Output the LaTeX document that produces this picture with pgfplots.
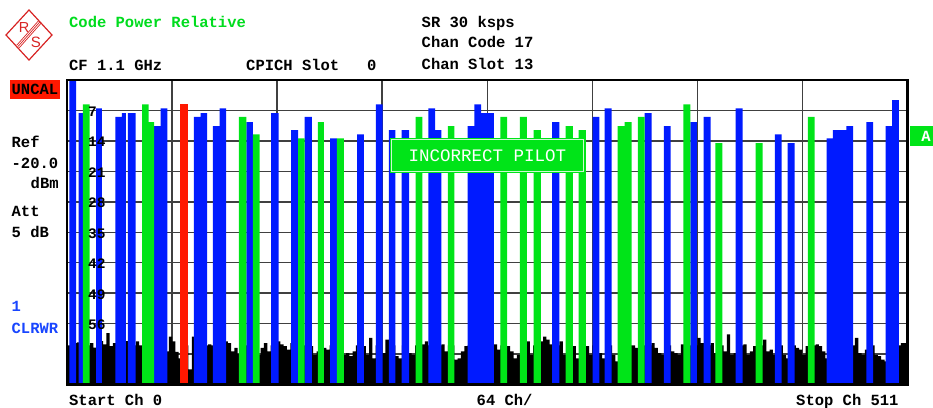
\documentclass[border=0pt]{standalone}
\usepackage{pgfplots}
\usepackage{pgfplotstable}
\pgfplotsset{compat=1.18}
\usepackage{fontspec}
\setmainfont{Liberation Mono}
\setsansfont{Liberation Sans}

\definecolor{rsblue}{RGB}{0,26,255}
\definecolor{rsgreen}{RGB}{0,228,24}
\definecolor{rsred}{RGB}{255,24,0}
\definecolor{hdrgreen}{RGB}{0,220,30}
\definecolor{txtblue}{RGB}{25,70,255}
\definecolor{logored}{RGB}{215,35,35}

\newcommand\rsfont{\fontsize{15.5bp}{18bp}\selectfont\bfseries}

% grid under the bars, frame over them
\pgfplotsset{
  layers/barsfirst/.define layer set={
    axis background,axis grid,axis ticks,pre main,main,axis lines,axis tick labels,axis descriptions,axis foreground
  }{
    grid style={/pgfplots/on layer=axis grid},
    tick style={/pgfplots/on layer=axis ticks},
    axis line style={/pgfplots/on layer=axis lines},
    label style={/pgfplots/on layer=axis descriptions},
    ticklabel style={/pgfplots/on layer=axis tick labels},
  },
}

% code power in dB below reference, per channel (bar start, level)
\pgfplotstableread{
x db
1.4 0
5.5 70
7.1 7.6
9.7 70
17.7 6.5
21.3 70
29.4 8.5
33.5 7.6
35.9 70
37.1 7.6
41.8 70
53.0 10.6
57.0 6.5
61.1 70
77.3 8.5
81.4 7.6
85.4 70
88.9 10.6
93.0 6.5
97.0 70
109.2 9.7
113.2 70
124.4 7.6
128.9 70
136.6 11.5
140.8 70
144.7 8.5
149.2 70
160.3 13.4
164.4 70
176.7 12.5
180.8 70
188.1 5.6
192.2 70
196.0 11.5
200.1 70
203.9 11.5
208.4 70
220.2 6.5
224.2 11.5
228.1 70
244.1 10.6
248.2 5.6
252.2 7.6
260.0 70
295.5 9.7
300.0 70
320.2 8.5
324.3 70
327.5 6.5
331.8 70
351.9 7.6
356.1 70
363.6 10.6
367.7 70
379.7 9.7
383.7 70
387.8 8.5
392.1 70
407.3 6.5
411.5 70
431.2 12.5
435.3 70
438.9 14.5
443.2 70
462.7 13.4
466.5 11.5
474.8 10.6
478.9 70
486.9 9.7
491.1 70
498.6 10.6
502.7 4.6
506.7 70
}\bluebars

\pgfplotstableread{
x db
9.7 5.6
13.8 70
45.7 5.6
49.7 9.7
53.0 70
104.7 8.5
109.2 70
113.2 12.5
117.3 70
140.8 13.4
144.7 70
152.8 9.7
156.5 70
164.4 13.4
168.6 70
212.3 8.5
216.5 70
232.0 10.6
236.0 70
264.0 8.5
268.1 70
275.8 8.5
280.2 70
284.3 11.5
288.6 70
303.8 10.6
308.1 70
311.7 11.5
316.1 70
335.4 10.6
339.7 9.7
344.0 70
347.8 8.5
351.9 70
375.4 5.6
379.7 70
394.9 14.5
399.2 70
419.5 14.5
423.7 70
451.3 8.5
455.4 70
}\greenbars

\pgfplotstableread{
x db
69.0 5.6
73.5 70
}\redbars

\pgfplotstableread{
c db
0 61
2 61
4 60.5
6 60.3
8 62
10 61
12 61
14 60.5
16 61.5
18 62
20 60
22 60.8
24 58.2
26 61.2
28 60.5
30 61
32 61
34 61
36 60
38 61
40 61
42 60.1
44 61
46 61
48 61
50 61
52 61
54 61
56 61
58 61
60 62.4
62 59
64 60.1
66 62.5
68 64
70 61
72 61
74 66.5
76 59
78 61
80 61
82 61
84 61
86 60.8
88 61
90 61
92 61
94 61
96 60.1
98 60.5
100 62.4
102 61.6
104 63
106 61
108 61
110 61
112 61
114 61
116 63.2
118 61.6
120 60.5
122 62.4
124 61
126 61
128 60.1
130 60.8
132 61.2
134 62
136 60.5
138 61
140 61
142 61
144 61
146 61
148 61.2
150 63.2
152 62.4
154 61
156 61.6
158 62
160 61
162 61
164 61
166 61
168 63.2
170 62.8
172 63.5
174 62.4
176 61
178 61
180 61.2
182 63.2
184 59.3
186 64
188 61
190 61
192 62.8
194 59.7
196 61
198 61
200 63.5
202 64
204 61
206 61
208 62.8
210 63.2
212 61
214 61
216 60.8
218 60.1
220 61
222 61
224 61
226 61
228 60.8
230 62.4
232 61
234 61
236 64.3
238 64
240 62.4
242 61.2
244 61
246 61
248 61
250 61
252 61
254 61
256 61
258 61
260 60.8
262 62
264 61
266 61
268 61.2
270 62.4
272 64
274 63.2
276 61
278 61
280 60.1
282 63.2
284 61
286 61
288 60.1
290 59
292 59.7
294 60.8
296 61
298 61
300 60.1
302 63.2
304 61
306 61
308 61.2
310 64
312 61
314 61
316 61.2
318 63.2
320 61
322 61
324 62.8
326 64
328 61
330 61
332 63.2
334 64.7
336 61
338 61
340 61
342 61
344 61
346 61.6
348 61
350 61
352 61
354 61
356 60.5
358 61.6
360 62.8
362 63.2
364 61
366 61
368 62.4
370 62.8
372 63.2
374 60.8
376 61
378 61
380 61
382 61
384 59.3
386 60.5
388 61
390 61
392 60.5
394 62.8
396 61
398 61
400 62.4
402 58.5
404 63.2
406 62.8
408 61
410 61
412 60.8
414 63.2
416 62.4
418 61.2
420 61
422 61
424 59.7
426 62.4
428 62
430 63.2
432 61
434 61
436 63.2
438 64
440 61
442 61
444 61.6
446 62
448 63.2
450 61.2
452 61
454 61
456 60.8
458 61.2
460 62.4
462 64
464 61
466 61
468 61
470 61
472 61
474 61
476 61
478 61
480 59.3
482 62.8
484 63.2
486 62
488 61
490 61
492 63.2
494 63.5
496 64.3
498 64.7
500 61
502 61
504 61
506 61
508 60.5
510 60.5
512 60.5
}\noisefloor

\begin{document}
\begin{tikzpicture}

\begin{axis}[
    at={(67bp,-384.5bp)}, anchor=south west,
    scale only axis,
    width=840.5bp, height=304.5bp,
    set layers=barsfirst,
    xmin=0, xmax=512,
    ymin=0, ymax=70,
    xtick={0,64,...,512}, xticklabels={},
    ytick={7,14,...,63}, yticklabels={},
    major tick length=0pt,
    grid=major,
    major grid style={line width=1.5bp, color=black!75},
    axis line style={line width=2.4bp, black},
]
\addplot[ybar interval, fill=black, draw=none] table[x=c, y expr=70-\thisrow{db}] {\noisefloor};
\addplot[ybar interval, fill=rsblue, draw=none] table[x=x, y expr=70-\thisrow{db}] {\bluebars};
\addplot[ybar interval, fill=rsgreen, draw=none] table[x=x, y expr=70-\thisrow{db}] {\greenbars};
\addplot[ybar interval, fill=rsred, draw=none] table[x=x, y expr=70-\thisrow{db}] {\redbars};
\end{axis}

% level labels inside the grid, on top of the bars
\foreach \lab/\yy in {7/111.7,14/142.2,21/172.6,28/203.1,35/233.5,42/264,49/294.4,56/324.9} {
  \node[anchor=west, inner sep=0pt, font=\fontsize{14.5bp}{15bp}\selectfont\bfseries] at (88bp,-\yy bp) {\lab};
}

% logo
\draw[logored, line width=1.2bp, line join=miter] (29bp,-10bp) -- (52bp,-35bp) -- (29bp,-60bp) -- (6bp,-35bp) -- cycle;
\foreach \o in {-1,0,1} {
  \draw[logored, line width=0.7bp] ([xshift=\o*1.3bp, yshift=-\o*1.2bp]39.8bp,-22bp) -- ([xshift=\o*1.3bp, yshift=-\o*1.2bp]18bp,-46.5bp);
}
\node[logored, font=\fontsize{14.5bp}{15bp}\selectfont\sffamily, inner sep=0pt] at (24.2bp,-28bp) {R};
\node[logored, font=\fontsize{15bp}{15bp}\selectfont\sffamily, inner sep=0pt] at (35.8bp,-42.2bp) {S};

% header
\begin{scope}[every node/.style={anchor=base west, inner sep=0pt, font=\rsfont}]
\node[text=hdrgreen] at (69bp,-27bp) {Code Power Relative};
\node at (69bp,-70.5bp) {CF 1.1 GHz};
\node at (246bp,-70.5bp) {CPICH Slot\ \ \ 0};
\node at (421.5bp,-27bp) {SR 30 ksps};
\node at (421.5bp,-47bp) {Chan Code 17};
\node at (421.5bp,-69.5bp) {Chan Slot 13};

% left panel
\fill[rsred] (9.5bp,-79.5bp) rectangle (60bp,-99bp);
\node at (11.5bp,-94bp) {UNCAL};
\node at (11.5bp,-147.5bp) {Ref};
\node at (11.5bp,-168bp) {-20.0};
\node at (30.5bp,-188bp) {dBm};
\node at (11.5bp,-216.5bp) {Att};
\node at (11.5bp,-237.5bp) {5 dB};
\node[text=txtblue] at (11.5bp,-311.5bp) {1};
\node[text=txtblue] at (11.5bp,-333bp) {CLRWR};

% bottom
\node at (69bp,-405bp) {Start Ch 0};
\node at (476.5bp,-405bp) {64 Ch/};
\node at (796bp,-405bp) {Stop Ch 511};
\end{scope}

% message box
\fill[rsgreen] (390bp,-137.5bp) rectangle (585bp,-172.5bp);
\draw[white!80!rsgreen, line width=1bp] (391.5bp,-139bp) rectangle (583.5bp,-171bp);
\node[anchor=base, inner sep=0pt, text=white, font=\fontsize{17.5bp}{20bp}\selectfont] at (487.5bp,-161bp) {INCORRECT PILOT};

% trace marker
\fill[rsgreen] (910bp,-126bp) rectangle (933bp,-146bp);
\node[anchor=base, inner sep=0pt, text=white, font=\rsfont] at (926bp,-141bp) {A};

\pgfresetboundingbox
\useasboundingbox (0,0) rectangle (933bp,-408bp);
\end{tikzpicture}
\end{document}
